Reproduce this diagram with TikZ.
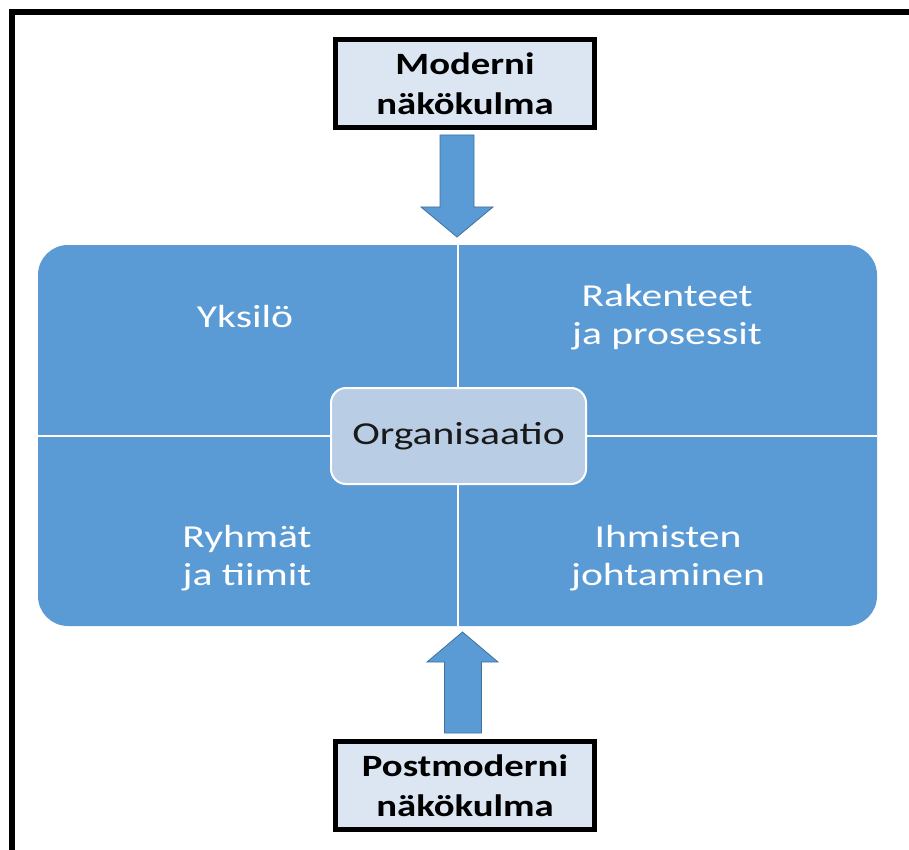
\documentclass[tikz,border=0pt]{standalone}
\usepackage{fontspec}
\setmainfont{Carlito}
\newfontfamily\widefont[FakeStretch=1.25]{Carlito}
\newfontfamily\widerfont[FakeStretch=1.3]{Carlito}
\definecolor{panelblue}{HTML}{5B9BD5}
\definecolor{arrowedge}{HTML}{41719C}
\definecolor{corefill}{HTML}{B9CDE5}
\definecolor{viewfill}{HTML}{DCE6F2}
\begin{document}
\begin{tikzpicture}[x=1pt,y=-1pt,
  txt/.style={font=\widerfont\fontsize{32}{38}\selectfont, align=center, inner sep=0pt},
  quadtext/.style={txt, text=white},
  viewbox/.style={draw=black, line width=5pt, fill=viewfill, minimum width=259pt,
    minimum height=88pt, txt, font=\widefont\bfseries\fontsize{31}{40}\selectfont},
  panel/.style={fill=panelblue, rounded corners=30pt, minimum width=839pt,
    minimum height=381pt, inner sep=0pt},
  core/.style={fill=corefill, draw=white, line width=2pt, rounded corners=15pt,
    minimum width=255pt, minimum height=96pt, txt, text=black!90},
  blockarrow/.style={fill=panelblue, draw=arrowedge, line width=0.8pt},
  divider/.style={white, line width=2pt}
]
\useasboundingbox (0,0) rectangle (909,850);
% open frame: only its left and top edges fall inside the page
\begin{scope}
  \clip (0,0) rectangle (909,850);
  \draw[line width=6pt, black] (11.5,12.5) rectangle (1000,1000);
\end{scope}

% blue matrix panel and its dividers
\node[panel] (panel) at (457.5,435.5) {};
\coordinate (vtop) at (458,245);
\coordinate (vbot) at (458,626);
\draw[divider] (vtop) -- (vbot);
\draw[divider] (panel.west) -- (panel.east);

% quadrant labels
\node[quadtext] (q1) at (245,317) {Yksilö};
\node[quadtext] (q2) at (667,317) {Rakenteet\\ja prosessit};
\node[quadtext] (q3) at (247,558) {Ryhmät\\ja tiimit};
\node[quadtext] (q4) at (668,558) {Ihmisten\\johtaminen};

% centre node
\node[core] (org) at (458.5,436) {Organisaatio};

% viewpoint boxes
\node[viewbox] (modern) at (465,83.5) {Moderni\\näkökulma};
\node[viewbox] (post) at (465,785.5) {Postmoderni\\näkökulma};

% block arrows towards the panel
\draw[blockarrow] (440,135) -- (474,135) -- (474,207) -- (493,207) -- (457,237)
  -- (421,207) -- (440,207) -- cycle;
\draw[blockarrow] (444.5,733) -- (481.5,733) -- (481.5,662) -- (498,662)
  -- (462.5,632) -- (427,662) -- (444.5,662) -- cycle;
\end{tikzpicture}
\end{document}
